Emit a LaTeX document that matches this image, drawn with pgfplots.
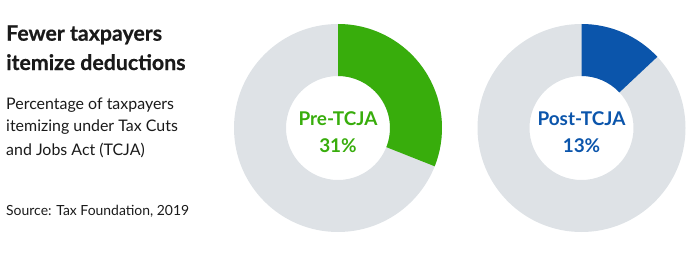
\documentclass[border=0pt]{standalone}
\usepackage{pgfplots}
\pgfplotsset{compat=1.18}
\usepackage{fontspec}
\setmainfont{Lato}
\newfontfamily\titlefont[BoldFeatures={FakeBold=0.6}]{Lato}
\definecolor{pregreen}{HTML}{38AD0C}
\definecolor{postblue}{HTML}{0B55AB}
\definecolor{ringgray}{HTML}{DEE2E6}
\definecolor{txt}{HTML}{1A1A1A}
\begin{document}
\begin{tikzpicture}
\begin{axis}[x=1bp, y=1bp, xmin=0, xmax=700, ymin=0, ymax=253,
  hide axis, clip=false, axis line style={draw=none}]
% donut data: share (percent) of taxpayers itemizing
\pgfmathsetmacro\preval{31}
\pgfmathsetmacro\postval{13}
\pgfmathsetmacro\preend{90-360*\preval/100}
\pgfmathsetmacro\postend{90-360*\postval/100}
\path (axis cs:0,0) rectangle (axis cs:700,253);
% left donut
\fill[ringgray, even odd rule] (axis cs:338,125) circle[radius=104bp] (axis cs:338,125) circle[radius=52bp];
\fill[pregreen] (axis cs:338,125) ++(90:104bp) arc[start angle=90, end angle=\preend, radius=104bp] -- ++(\preend:-52bp) arc[start angle=\preend, end angle=90, radius=52bp] -- cycle;
% right donut
\fill[ringgray, even odd rule] (axis cs:581.5,125) circle[radius=104bp] (axis cs:581.5,125) circle[radius=52bp];
\fill[postblue] (axis cs:581.5,125) ++(90:104bp) arc[start angle=90, end angle=\postend, radius=104bp] -- ++(\postend:-52bp) arc[start angle=\postend, end angle=90, radius=52bp] -- cycle;
% center labels
\node[anchor=base, inner sep=0, text=pregreen, font=\fontsize{19}{21}\selectfont\bfseries] at (axis cs:338,128) {Pre-TCJA};
\node[anchor=base, inner sep=0, text=pregreen, font=\fontsize{19}{21}\selectfont\bfseries] at (axis cs:338,101) {31\%};
\node[anchor=base, inner sep=0, text=postblue, font=\fontsize{19}{21}\selectfont\bfseries] at (axis cs:581.5,128) {Post-TCJA};
\node[anchor=base, inner sep=0, text=postblue, font=\fontsize{19}{21}\selectfont\bfseries] at (axis cs:581.5,101) {13\%};
% left text
\node[anchor=base west, inner sep=0, text=txt, font=\titlefont\fontsize{21.4}{24}\selectfont\bfseries] at (axis cs:6,212.3) {Fewer taxpayers};
\node[anchor=base west, inner sep=0, text=txt, font=\titlefont\fontsize{21.4}{24}\selectfont\bfseries] at (axis cs:6,183) {itemize deductions};
\node[anchor=base west, inner sep=0, text=txt, font=\fontsize{16}{18}\selectfont] at (axis cs:6,144) {Percentage of taxpayers};
\node[anchor=base west, inner sep=0, text=txt, font=\fontsize{16}{18}\selectfont] at (axis cs:6,121.3) {itemizing under Tax Cuts};
\node[anchor=base west, inner sep=0, text=txt, font=\fontsize{16}{18}\selectfont] at (axis cs:6,98) {and Jobs Act (TCJA)};
\node[anchor=base west, inner sep=0, text=txt, font=\fontsize{14}{16}\selectfont] at (axis cs:6,38) {Source: Tax Foundation, 2019};
\end{axis}
\end{tikzpicture}
\end{document}
